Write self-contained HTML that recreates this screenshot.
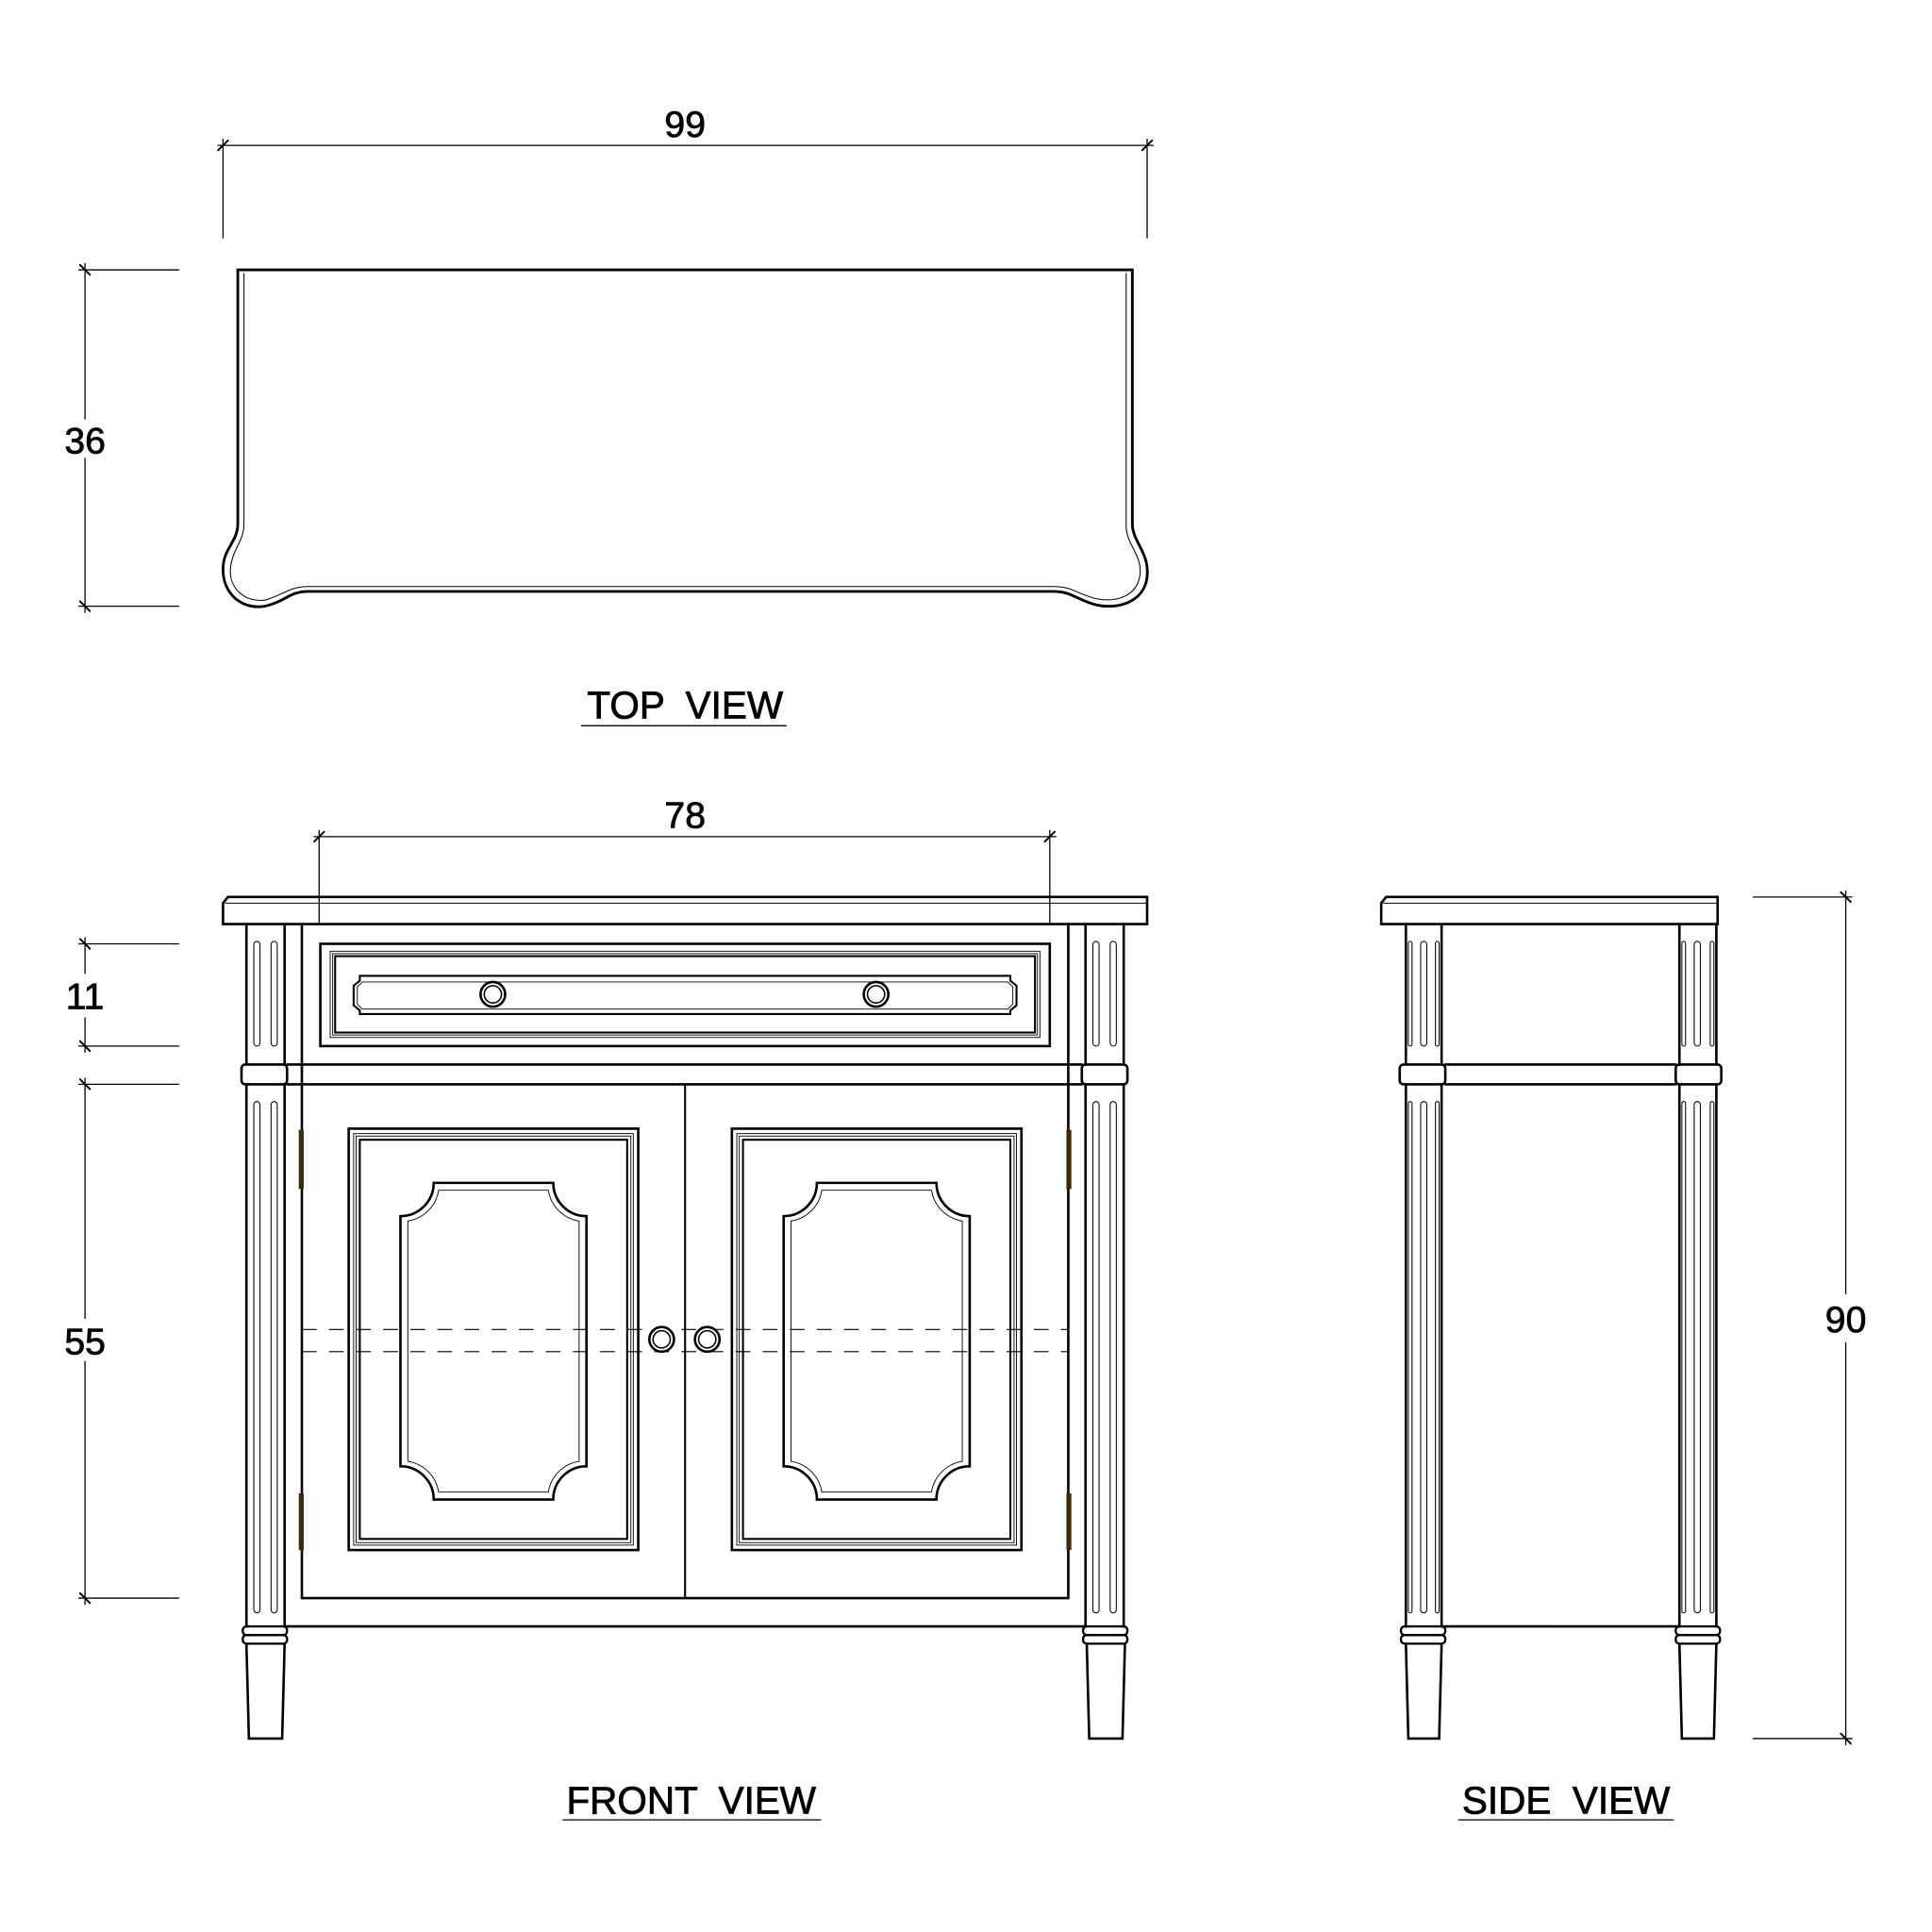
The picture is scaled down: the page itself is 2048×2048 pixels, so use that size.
<!DOCTYPE html>
<html><head><meta charset="utf-8"><style>html,body{margin:0;padding:0;background:#fff}svg{display:block}</style></head>
<body>
<svg width="2048" height="2048" viewBox="0 0 1568 1568" xmlns="http://www.w3.org/2000/svg" font-family="Liberation Sans, Arial, sans-serif">
<defs>
<path id="pnl" d="M352,960 L449,960 A27,27 0 0 0 476,987 L476,1190 A27,27 0 0 0 449,1217 L352,1217 A27,27 0 0 0 325,1190 L325,987 A27,27 0 0 0 352,960Z"/>
<path id="pnli" d="M356,966 L445,966 A30,30 0 0 0 470,991 L470,1186 A30,30 0 0 0 445,1211 L356,1211 A30,30 0 0 0 331,1186 L331,991 A30,30 0 0 0 356,966Z"/>
<g id="door">
<rect x="283" y="916" width="235" height="342" fill="none" stroke="#000" stroke-width="2"/>
<rect x="287" y="920" width="227" height="334" fill="none" stroke="#000" stroke-width="0.7"/>
<rect x="289" y="922" width="223" height="330" fill="none" stroke="#000" stroke-width="0.7"/>
<rect x="292" y="925" width="217" height="324" fill="none" stroke="#000" stroke-width="1.6"/>
<use href="#pnl" fill="none" stroke="#000" stroke-width="2"/>
<use href="#pnli" fill="none" stroke="#000" stroke-width="0.7"/>
</g>
</defs>
<g fill="none" stroke="#000" stroke-linecap="round">
<!-- TOP VIEW dims -->
<line x1="177" y1="118" x2="936" y2="118" stroke-width="1"/>
<line x1="181" y1="113" x2="181" y2="193" stroke-width="1"/>
<line x1="931" y1="113" x2="931" y2="193" stroke-width="1"/>
<line x1="177" y1="122" x2="185" y2="114" stroke-width="1.5"/>
<line x1="927" y1="122" x2="935" y2="114" stroke-width="1.5"/>
<line x1="64" y1="219" x2="145" y2="219" stroke-width="1"/>
<line x1="64" y1="492" x2="145" y2="492" stroke-width="1"/>
<line x1="69" y1="214" x2="69" y2="340" stroke-width="1"/>
<line x1="69" y1="372" x2="69" y2="497" stroke-width="1"/>
<line x1="65" y1="215" x2="73" y2="223" stroke-width="1.5"/>
<line x1="65" y1="488" x2="73" y2="496" stroke-width="1.5"/>
<!-- top outline -->
<path d="M193,219 L919,219 L919,425 C919,440 933,448 931,468 C929,488 908,495 890,491 C874,487 870,480 855,480 L250,480 C235,480 232,488 215,492 C196,495 181,482 181,462 C181,445 193,440 193,425 Z" stroke-width="2.2"/>
<path d="M198,222 L198,425 M914,222 L914,425 C913,442 928,450 925,468 C922,484 906,489 890,486 C874,482 870,476 855,476 L250,476 C235,476 230,483 215,487 C199,489 186,478 187,462 C188,446 198,440 198,425" stroke-width="0.8"/>
<line x1="472" y1="589" x2="638" y2="589" stroke-width="1"/>

<!-- FRONT VIEW -->
<line x1="255" y1="679" x2="857" y2="679" stroke-width="1"/>
<line x1="259" y1="674" x2="259" y2="750" stroke-width="1"/>
<line x1="852" y1="674" x2="852" y2="750" stroke-width="1"/>
<line x1="255" y1="683" x2="263" y2="675" stroke-width="1.5"/>
<line x1="848" y1="683" x2="856" y2="675" stroke-width="1.5"/>
<path d="M181,750 L181,733 L185,728 L931,728 L931,750 Z" stroke-width="2"/>
<line x1="183" y1="733" x2="931" y2="733" stroke-width="0.8"/>
<line x1="200" y1="750" x2="200" y2="864" stroke-width="2"/>
<line x1="231" y1="750" x2="231" y2="864" stroke-width="2"/>
<line x1="200" y1="880" x2="200" y2="1320" stroke-width="2"/>
<line x1="231" y1="880" x2="231" y2="1320" stroke-width="2"/>
<line x1="881" y1="750" x2="881" y2="864" stroke-width="2"/>
<line x1="912" y1="750" x2="912" y2="864" stroke-width="2"/>
<line x1="881" y1="880" x2="881" y2="1320" stroke-width="2"/>
<line x1="912" y1="880" x2="912" y2="1320" stroke-width="2"/>
<line x1="245" y1="750" x2="245" y2="1297" stroke-width="2"/>
<line x1="867" y1="750" x2="867" y2="1297" stroke-width="2"/>
<g stroke-width="0.8">
<rect x="206" y="764" width="5" height="85" rx="2.5"/><rect x="220" y="764" width="5" height="85" rx="2.5"/>
<rect x="206" y="894" width="5" height="415" rx="2.5"/><rect x="220" y="894" width="5" height="415" rx="2.5"/>
<rect x="887" y="764" width="5" height="85" rx="2.5"/><rect x="901" y="764" width="5" height="85" rx="2.5"/>
<rect x="887" y="894" width="5" height="415" rx="2.5"/><rect x="901" y="894" width="5" height="415" rx="2.5"/>
</g>
<rect x="196" y="864" width="37" height="16" rx="3" stroke-width="2"/>
<rect x="878" y="864" width="37" height="16" rx="3" stroke-width="2"/>
<line x1="233" y1="864" x2="878" y2="864" stroke-width="2"/>
<line x1="233" y1="880" x2="878" y2="880" stroke-width="2"/>
<rect x="260" y="766" width="592" height="83" stroke-width="2"/>
<rect x="268" y="772" width="576" height="70" stroke-width="0.7"/>
<rect x="270" y="774" width="572" height="66" stroke-width="0.7"/>
<rect x="272" y="776" width="568" height="62" stroke-width="1.6"/>
<path d="M292,792 L820,792 L820,796 L825,800 L825,816 L820,820 L820,823 L292,823 L292,820 L287,816 L287,800 L292,796 Z" stroke-width="1.6"/>
<path d="M294,797 L818,797 L822,801 L822,815 L818,819 L294,819 L290,815 L290,801 Z" stroke-width="0.7"/>
<circle cx="400" cy="807" r="10" stroke-width="2"/><circle cx="400" cy="807" r="7" stroke-width="1.2"/>
<circle cx="711" cy="807" r="10" stroke-width="2"/><circle cx="711" cy="807" r="7" stroke-width="1.2"/>
<line x1="245" y1="1297" x2="867" y2="1297" stroke-width="2"/>
<line x1="556" y1="880" x2="556" y2="1297" stroke-width="1.6"/>
<use href="#door"/>
<use href="#door" transform="translate(311,0)"/>
<line x1="245" y1="1079" x2="867" y2="1079" stroke-width="0.8" stroke-dasharray="12,10" stroke-linecap="butt"/>
<line x1="245" y1="1097" x2="867" y2="1097" stroke-width="0.8" stroke-dasharray="12,10" stroke-linecap="butt"/>
<circle cx="537" cy="1087" r="10" stroke-width="2" fill="#fff"/><circle cx="537" cy="1087" r="7" stroke-width="1.2"/>
<circle cx="574" cy="1087" r="10" stroke-width="2" fill="#fff"/><circle cx="574" cy="1087" r="7" stroke-width="1.2"/>
<g stroke="none" fill="#3a2a08">
<rect x="242.5" y="917" width="4" height="48"/><rect x="242.5" y="1212" width="4" height="46"/>
<rect x="865.5" y="917" width="4" height="48"/><rect x="865.5" y="1212" width="4" height="46"/>
</g>
<line x1="231" y1="1320" x2="881" y2="1320" stroke-width="2"/>
<rect x="197" y="1320" width="36" height="7" rx="3" stroke-width="1.8"/>
<rect x="197" y="1327" width="36" height="7" rx="3" stroke-width="1.8"/>
<path d="M200,1334 L202,1411 L229,1411 L231,1334" stroke-width="2"/>
<rect x="879" y="1320" width="36" height="7" rx="3" stroke-width="1.8"/>
<rect x="879" y="1327" width="36" height="7" rx="3" stroke-width="1.8"/>
<path d="M882,1334 L884,1411 L911,1411 L913,1334" stroke-width="2"/>
<line x1="64" y1="766" x2="145" y2="766" stroke-width="1"/>
<line x1="64" y1="849" x2="145" y2="849" stroke-width="1"/>
<line x1="64" y1="880" x2="145" y2="880" stroke-width="1"/>
<line x1="64" y1="1297" x2="145" y2="1297" stroke-width="1"/>
<line x1="69" y1="761" x2="69" y2="790" stroke-width="1"/>
<line x1="69" y1="826" x2="69" y2="854" stroke-width="1"/>
<line x1="69" y1="875" x2="69" y2="1070" stroke-width="1"/>
<line x1="69" y1="1105" x2="69" y2="1302" stroke-width="1"/>
<line x1="65" y1="762" x2="73" y2="770" stroke-width="1.5"/>
<line x1="65" y1="845" x2="73" y2="853" stroke-width="1.5"/>
<line x1="65" y1="876" x2="73" y2="884" stroke-width="1.5"/>
<line x1="65" y1="1293" x2="73" y2="1301" stroke-width="1.5"/>
<line x1="457" y1="1477" x2="666" y2="1477" stroke-width="1"/>

<!-- SIDE VIEW -->
<path d="M1121,750 L1121,733 L1125,728 L1394,728 L1394,750 Z" stroke-width="2"/>
<line x1="1123" y1="733" x2="1394" y2="733" stroke-width="0.8"/>
<line x1="1141" y1="750" x2="1141" y2="864" stroke-width="2"/>
<line x1="1170" y1="750" x2="1170" y2="864" stroke-width="2"/>
<line x1="1141" y1="880" x2="1141" y2="1320" stroke-width="2"/>
<line x1="1170" y1="880" x2="1170" y2="1320" stroke-width="2"/>
<line x1="1363" y1="750" x2="1363" y2="864" stroke-width="2"/>
<line x1="1393" y1="750" x2="1393" y2="864" stroke-width="2"/>
<line x1="1363" y1="880" x2="1363" y2="1320" stroke-width="2"/>
<line x1="1393" y1="880" x2="1393" y2="1320" stroke-width="2"/>
<g stroke-width="0.8">
<rect x="1143" y="764" width="3" height="85" rx="1.5"/><rect x="1153" y="764" width="5" height="85" rx="2.5"/><rect x="1165" y="764" width="3" height="85" rx="1.5"/>
<rect x="1143" y="894" width="3" height="415" rx="1.5"/><rect x="1153" y="894" width="5" height="415" rx="2.5"/><rect x="1165" y="894" width="3" height="415" rx="1.5"/>
<rect x="1365" y="764" width="3" height="85" rx="1.5"/><rect x="1375" y="764" width="5" height="85" rx="2.5"/><rect x="1388" y="764" width="3" height="85" rx="1.5"/>
<rect x="1365" y="894" width="3" height="415" rx="1.5"/><rect x="1375" y="894" width="5" height="415" rx="2.5"/><rect x="1388" y="894" width="3" height="415" rx="1.5"/>
</g>
<rect x="1136" y="864" width="37" height="16" rx="3" stroke-width="2"/>
<rect x="1360" y="864" width="37" height="16" rx="3" stroke-width="2"/>
<line x1="1173" y1="864" x2="1360" y2="864" stroke-width="2"/>
<line x1="1173" y1="880" x2="1360" y2="880" stroke-width="2"/>
<line x1="1170" y1="1320" x2="1363" y2="1320" stroke-width="2"/>
<rect x="1137" y="1320" width="36" height="7" rx="3" stroke-width="1.8"/>
<rect x="1137" y="1327" width="36" height="7" rx="3" stroke-width="1.8"/>
<path d="M1141,1334 L1143,1411 L1168,1411 L1170,1334" stroke-width="2"/>
<rect x="1360" y="1320" width="36" height="7" rx="3" stroke-width="1.8"/>
<rect x="1360" y="1327" width="36" height="7" rx="3" stroke-width="1.8"/>
<path d="M1363,1334 L1365,1411 L1391,1411 L1393,1334" stroke-width="2"/>
<line x1="1423" y1="728" x2="1503" y2="728" stroke-width="1"/>
<line x1="1423" y1="1411" x2="1503" y2="1411" stroke-width="1"/>
<line x1="1498" y1="723" x2="1498" y2="1050" stroke-width="1"/>
<line x1="1498" y1="1090" x2="1498" y2="1416" stroke-width="1"/>
<line x1="1494" y1="724" x2="1502" y2="732" stroke-width="1.5"/>
<line x1="1494" y1="1407" x2="1502" y2="1415" stroke-width="1.5"/>
<line x1="1184" y1="1477" x2="1358" y2="1477" stroke-width="1"/>
</g>
<g fill="#000" stroke="#000" stroke-width="0.6" font-size="30" text-anchor="middle">
<text x="556" y="111">99</text>
<text x="69" y="368">36</text>
<text x="556" y="672">78</text>
<text x="69" y="819">11</text>
<text x="69" y="1099">55</text>
<text x="1498" y="1081">90</text>
<text x="556" y="583" font-size="31" xml:space="preserve">TOP  VIEW</text>
<text x="561" y="1472" font-size="31" xml:space="preserve">FRONT  VIEW</text>
<text x="1271" y="1472" font-size="31" xml:space="preserve">SIDE  VIEW</text>
</g>
</svg>
</body></html>
